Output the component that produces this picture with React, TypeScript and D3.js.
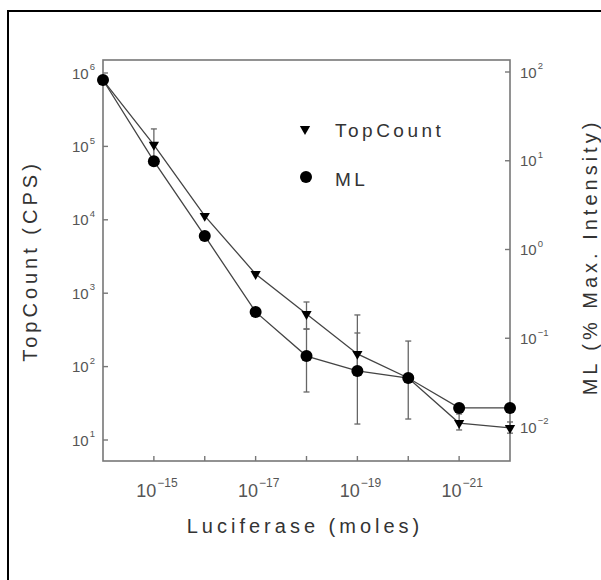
import React from 'react';
import * as d3 from 'd3';

// luciferase amount (moles), plotted right-to-left on a log axis
const moles = [1e-14, 1e-15, 1e-16, 1e-17, 1e-18, 1e-19, 1e-20, 1e-21, 1e-22];

// TopCount signal (CPS), left axis
const topCount = [8.0e5, 1.05e5, 1.13e4, 1.83e3, 521, 149, 70, 17, 14.6];
const topCountLo = [null, 6.5e4, null, null, 325, 90, null, 13.7, 12.4];
const topCountHi = [null, 1.73e5, null, null, 759, 287, null, 22.6, 17.6];

// ML (% max intensity), right axis
const ml = [81.3, 9.9, 1.42, 0.198, 0.063, 0.0428, 0.0356, 0.0164, 0.0164];
const mlLo = [null, null, null, null, 0.0248, 0.0108, 0.0123, null, null];
const mlHi = [null, null, null, null, 0.127, 0.183, 0.093, null, null];

const xTickExps = [-15, -16, -17, -18, -19, -20, -21];
const xLabelExps = [-15, -17, -19, -21];
const leftTickExps = [1, 2, 3, 4, 5, 6];
const rightTickExps = [-2, -1, 0, 1, 2];

const font = "'Liberation Sans', Arial, sans-serif";
const textColor = '#555';
const axisColor = '#777';

const box = { left: 103, top: 60, right: 510, bottom: 461 };

function Pow({ x, y, exp, anchor, size, supSize }: any) {
  const e = String(exp).replace('-', '\u2212');
  return (
    <text x={x} y={y} textAnchor={anchor} fontFamily={font} fontSize={size} fill={textColor}>
      10
      <tspan dx={1} dy={-size * 0.55} fontSize={supSize}>{e}</tspan>
    </text>
  );
}

export default function App() {
  const x = d3.scaleLog().domain([1e-14, 1e-22]).range([box.left, box.right]);
  const yL = d3.scaleLog().domain([1e1, 1e6]).range([440, 73]);
  const yR = d3.scaleLog().domain([1e-2, 1e2]).range([427, 72]);

  const tcLine = d3.line<number>().x((_, i) => x(moles[i])).y((d) => yL(d));
  const mlLine = d3.line<number>().x((_, i) => x(moles[i])).y((d) => yR(d));
  const tri = d3.symbol().type(d3.symbolTriangle).size(46)();

  const errBars = (lo: (number | null)[], hi: (number | null)[], y: any, key: string) =>
    lo.map((l, i) => {
      const h = hi[i];
      if (l == null || h == null) return null;
      const cx = x(moles[i]);
      return (
        <g key={key + i} stroke="#666" strokeWidth={1.3}>
          <line x1={cx} x2={cx} y1={y(l)} y2={y(h)} />
          <line x1={cx - 3} x2={cx + 3} y1={y(l)} y2={y(l)} />
          <line x1={cx - 3} x2={cx + 3} y1={y(h)} y2={y(h)} />
        </g>
      );
    });

  return (
    <svg width={601} height={580} style={{ position: 'absolute', left: 0, top: 0 }}>
      <rect x={0} y={0} width={601} height={580} fill="#fff" />
      {/* page frame: only the top and left edges fall inside the picture */}
      <line x1={8} x2={601} y1={11} y2={11} stroke="#000" strokeWidth={2} />
      <line x1={8} x2={8} y1={10} y2={580} stroke="#000" strokeWidth={2} />

      {/* plot frame */}
      <rect
        x={box.left}
        y={box.top}
        width={box.right - box.left}
        height={box.bottom - box.top}
        fill="none"
        stroke={axisColor}
        strokeWidth={1.6}
      />

      {/* x ticks */}
      {xTickExps.map((e) => (
        <line key={'xt' + e} x1={x(10 ** e)} x2={x(10 ** e)} y1={box.bottom} y2={box.bottom - 5} stroke={axisColor} strokeWidth={1.4} />
      ))}
      {xLabelExps.map((e) => (
        <Pow key={'xl' + e} x={x(10 ** e) + 3} y={497} exp={e} anchor="middle" size={18} supSize={12} />
      ))}

      {/* left ticks */}
      {leftTickExps.map((e) => (
        <g key={'lt' + e}>
          <line x1={box.left} x2={box.left + 5} y1={yL(10 ** e)} y2={yL(10 ** e)} stroke={axisColor} strokeWidth={1.4} />
          <Pow x={95} y={yL(10 ** e) + 5.5} exp={e} anchor="end" size={15} supSize={9.5} />
        </g>
      ))}

      {/* right ticks */}
      {rightTickExps.map((e) => (
        <g key={'rt' + e}>
          <line x1={box.right} x2={box.right - 5} y1={yR(10 ** e)} y2={yR(10 ** e)} stroke={axisColor} strokeWidth={1.4} />
          <Pow x={520} y={yR(10 ** e) + 5.5} exp={e} anchor="start" size={15} supSize={9.5} />
        </g>
      ))}

      {/* error bars */}
      {errBars(mlLo, mlHi, yR, 'me')}
      {errBars(topCountLo, topCountHi, yL, 'te')}

      {/* series lines */}
      <path d={mlLine(ml) || ''} fill="none" stroke="#444" strokeWidth={1.3} />
      <path d={tcLine(topCount) || ''} fill="none" stroke="#444" strokeWidth={1.3} />

      {/* markers */}
      {ml.map((d, i) => (
        <circle key={'mc' + i} cx={x(moles[i])} cy={yR(d)} r={6} fill="#000" />
      ))}
      {topCount.map((d, i) => (
        <path key={'tc' + i} d={tri || ''} transform={`translate(${x(moles[i])},${yL(d)}) rotate(180)`} fill="#000" />
      ))}

      {/* legend */}
      <path d={tri || ''} transform="translate(305,129) rotate(180)" fill="#000" />
      <text x={335} y={137} fontFamily={font} fontSize={19} letterSpacing={3.5} fill="#333">TopCount</text>
      <circle cx={306} cy={177} r={6} fill="#000" />
      <text x={335} y={186} fontFamily={font} fontSize={19} letterSpacing={3.5} fill="#333">ML</text>

      {/* axis titles */}
      <text
        transform="translate(37,261) rotate(-90)"
        textAnchor="middle"
        fontFamily={font}
        fontSize={20}
        letterSpacing={4}
        fill="#333"
      >
        TopCount (CPS)
      </text>
      <text
        transform="translate(597,257) rotate(-90)"
        textAnchor="middle"
        fontFamily={font}
        fontSize={20}
        letterSpacing={4}
        fill="#333"
      >
        ML (% Max. Intensity)
      </text>
      <text x={305} y={533} textAnchor="middle" fontFamily={font} fontSize={20} letterSpacing={4} fill="#333">
        Luciferase (moles)
      </text>
    </svg>
  );
}
